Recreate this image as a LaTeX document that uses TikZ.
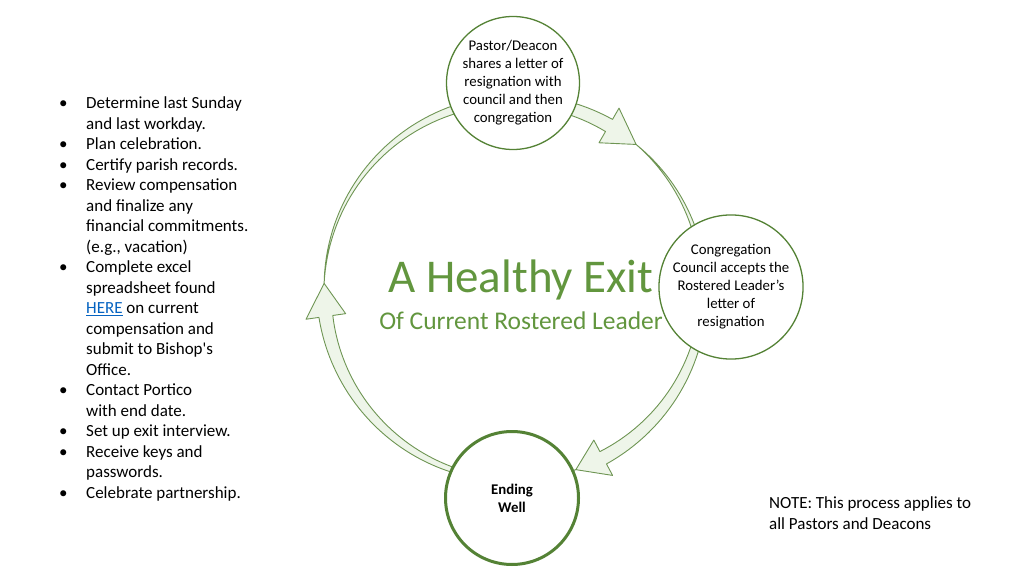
\documentclass[tikz,border=0pt]{standalone}
\usepackage{fontspec}
\setmainfont{Carlito}
\usetikzlibrary{positioning,calc}
\definecolor{leafgreen}{RGB}{84,130,53}
\definecolor{titlegreen}{RGB}{98,150,62}
\definecolor{arrowfill}{RGB}{238,245,233}
\definecolor{linkblue}{RGB}{5,99,193}

% tapered cycle arrow: tail angle, head base angle, tip angle
\newcommand{\cyclearrow}[3]{%
  \draw[arr] plot[domain=#1:#2,samples=60,variable=\t]
      ({(190+7*((#1)-(\t))/((#1)-(#2)))*cos(\t)},{(190+7*((#1)-(\t))/((#1)-(#2)))*sin(\t)})
    -- (#2:210) -- (#3:190) -- (#2:170)
    -- plot[domain=#2:#1,samples=60,variable=\t]
      ({(190-7*((#1)-(\t))/((#1)-(#2)))*cos(\t)},{(190-7*((#1)-(\t))/((#1)-(#2)))*sin(\t)})
    -- cycle;}

\begin{document}
\begin{tikzpicture}[x=1pt,y=1pt,
  stage/.style={circle,draw=leafgreen,fill=white,line width=1.3pt,
                minimum size=133pt,inner sep=0pt,align=center,
                font=\fontsize{14.8}{18}\selectfont},
  arr/.style={draw=leafgreen!85,fill=arrowfill,line width=0.9pt,line join=round},
  heading/.style={font=\fontsize{47}{50}\selectfont,text=titlegreen,anchor=base,inner sep=0pt},
  subhead/.style={font=\fontsize{25.5}{28}\selectfont,text=titlegreen,anchor=base,inner sep=0pt},
  txt/.style={font=\fontsize{17}{20.5}\selectfont,anchor=north west,inner sep=0pt,align=left}
]
\useasboundingbox (0,0) rectangle (1024,576);

% Cycle arrows (drawn under the circles)
\begin{scope}[shift={(514,286)}]
  \cyclearrow{178}{60}{50}
  \cyclearrow{50}{-62}{-71}
  \cyclearrow{-71}{-172}{-182}
\end{scope}

% Stages
\node[stage] (resign) at (513,493)
  {Pastor/Deacon\\shares a letter of\\resignation with\\council and then\\congregation};
\node[stage,minimum size=129pt] (accept) at (731,289)
  {Congregation\\Council accepts the\\Rostered Leader’s\\letter of\\resignation};
\node[stage,line width=3pt,font=\fontsize{14.8}{18}\selectfont\bfseries] (ending) at (512,78)
  {Ending\\Well};

% Title
\node[heading] (title) at (521,283) {A Healthy Exit};
\node[subhead] (subtitle) at (521,247) {Of Current Rostered Leader};

% Task list
\node[txt] (tasks) at (59,482) {%
  \begin{tabular}{@{}p{27pt}@{}l@{}}
  \textbullet & Determine last Sunday\\
              & and last workday.\\
  \textbullet & Plan celebration.\\
  \textbullet & Certify parish records.\\
  \textbullet & Review compensation\\
              & and finalize any\\
              & financial commitments.\\
              & (e.g., vacation)\\
  \textbullet & Complete excel\\
              & spreadsheet found\\
              & {\color{linkblue}\underline{HERE}} on current\\
              & compensation and\\
              & submit to Bishop\textquotesingle s\\
              & Office.\\
  \textbullet & Contact Portico\\
              & with end date.\\
  \textbullet & Set up exit interview.\\
  \textbullet & Receive keys and\\
              & passwords.\\
  \textbullet & Celebrate partnership.
  \end{tabular}};

% Note
\node[txt] (note) at (769,82) {%
  \begin{tabular}{@{}l@{}}
  NOTE: This process applies to\\
  all Pastors and Deacons
  \end{tabular}};

\end{tikzpicture}
\end{document}
